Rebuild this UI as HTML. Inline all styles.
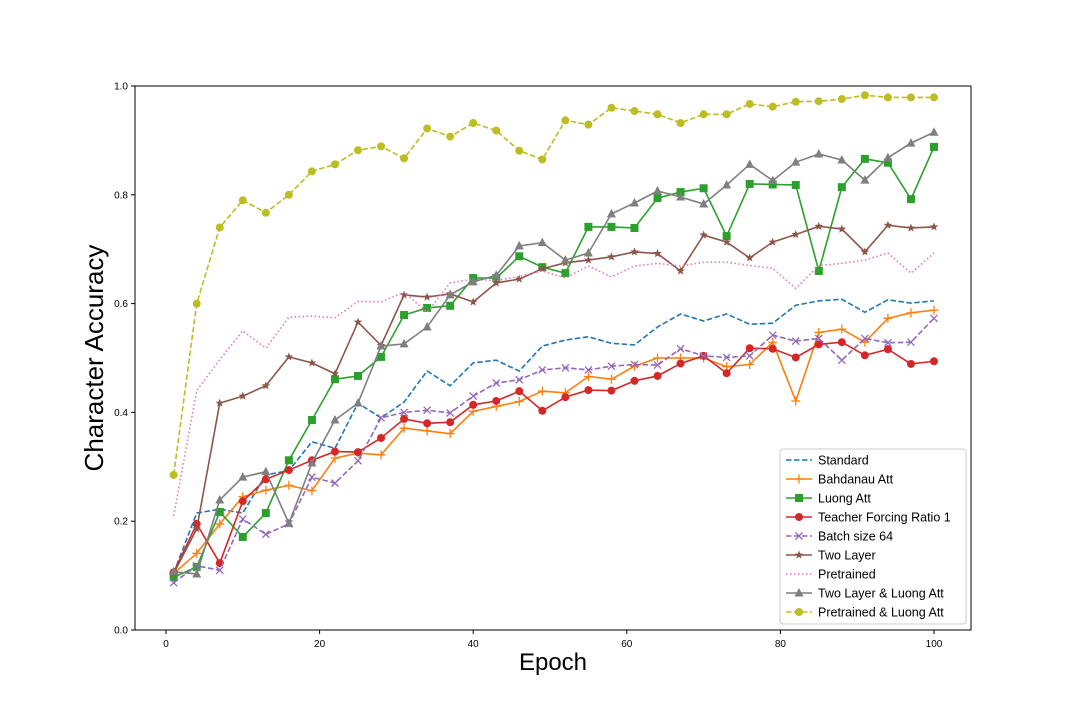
<!DOCTYPE html>
<html><head><meta charset="utf-8"><style>
html,body{margin:0;padding:0;background:#fff;}
svg{display:block;font-family:"Liberation Sans","DejaVu Sans",sans-serif;}
</style></head><body>
<svg id="chart" width="1080" height="720" viewBox="0 0 1080 720" xmlns="http://www.w3.org/2000/svg">
<rect x="0" y="0" width="1080" height="720" fill="#fff"/>
<g id="plot"></g>
<g id="axes"></g>
<text x="553" y="670" font-size="24" text-anchor="middle">Epoch</text>
<text transform="translate(103,358) rotate(-90)" font-size="26" text-anchor="middle">Character Accuracy</text>
<g id="legend"></g>
</svg>
<script>
const epochs = [1,4,7,10,13,16,19,22,25,28,31,34,37,40,43,46,49,52,55,58,61,64,67,70,73,76,79,82,85,88,91,94,97,100];
const seriesNames = ["Standard","Bahdanau Att","Luong Att","Teacher Forcing Ratio 1","Batch size 64","Two Layer","Pretrained","Two Layer & Luong Att","Pretrained & Luong Att"];
const standard = [0.105,0.215,0.222,0.215,0.285,0.293,0.346,0.334,0.417,0.39,0.419,0.476,0.449,0.491,0.496,0.476,0.522,0.533,0.539,0.527,0.524,0.557,0.581,0.568,0.581,0.562,0.564,0.597,0.605,0.608,0.584,0.607,0.601,0.605];
const bahdanau = [0.104,0.141,0.195,0.245,0.257,0.266,0.256,0.316,0.325,0.322,0.371,0.366,0.361,0.402,0.411,0.42,0.439,0.436,0.466,0.461,0.485,0.5,0.5,0.5,0.484,0.488,0.529,0.421,0.547,0.553,0.529,0.573,0.583,0.588];
const luong = [0.097,0.116,0.217,0.171,0.215,0.312,0.386,0.461,0.467,0.502,0.579,0.592,0.596,0.647,0.647,0.687,0.667,0.656,0.741,0.741,0.739,0.794,0.805,0.812,0.724,0.82,0.819,0.818,0.66,0.814,0.866,0.859,0.792,0.888];
const teacher = [0.106,0.195,0.123,0.237,0.277,0.294,0.312,0.328,0.327,0.353,0.388,0.38,0.382,0.414,0.421,0.439,0.403,0.428,0.441,0.44,0.458,0.467,0.49,0.504,0.472,0.518,0.517,0.501,0.525,0.529,0.505,0.516,0.489,0.494];
const batch64 = [0.087,0.118,0.11,0.204,0.176,0.195,0.281,0.27,0.311,0.39,0.4,0.404,0.399,0.43,0.454,0.46,0.478,0.482,0.478,0.485,0.488,0.487,0.517,0.504,0.501,0.504,0.542,0.531,0.536,0.496,0.536,0.528,0.529,0.573];
const twoLayer = [0.104,0.186,0.417,0.43,0.449,0.502,0.491,0.471,0.566,0.523,0.616,0.612,0.618,0.603,0.638,0.645,0.664,0.675,0.68,0.686,0.695,0.692,0.66,0.726,0.713,0.684,0.713,0.727,0.742,0.737,0.695,0.744,0.739,0.741];
const pretrained = [0.21,0.44,0.497,0.55,0.518,0.575,0.577,0.574,0.604,0.603,0.621,0.584,0.638,0.645,0.642,0.65,0.66,0.647,0.669,0.649,0.669,0.674,0.669,0.676,0.676,0.67,0.665,0.628,0.67,0.674,0.68,0.693,0.656,0.693];
const twoLayerLuong = [0.107,0.103,0.239,0.281,0.291,0.196,0.307,0.386,0.417,0.522,0.526,0.557,0.616,0.64,0.652,0.706,0.712,0.68,0.693,0.765,0.785,0.807,0.796,0.783,0.818,0.856,0.826,0.86,0.875,0.864,0.827,0.868,0.895,0.915];
const pretrainedLuong = [0.285,0.60,0.74,0.79,0.767,0.80,0.843,0.856,0.882,0.889,0.867,0.922,0.907,0.932,0.918,0.881,0.865,0.937,0.929,0.960,0.954,0.948,0.932,0.948,0.948,0.967,0.962,0.971,0.972,0.976,0.983,0.979,0.979,0.979];
const xTicks = [0,20,40,60,80,100];
const yTicks = [0.0,0.2,0.4,0.6,0.8,1.0];

const NS="http://www.w3.org/2000/svg";
const L=135,R=971,T=86,B=630;
function xs(e){return 166+(e-0)*7.68;}
function ys(v){return B-(v-0)*(B-T)/1.0;}
function mk(tag,attrs,parent){const el=document.createElementNS(NS,tag);for(const k in attrs)el.setAttribute(k,attrs[k]);parent.appendChild(el);return el;}

const styles=[
 {data:standard,color:"#1f77b4",dash:"5.5,2.5",marker:"none"},
 {data:bahdanau,color:"#ff7f0e",dash:"",marker:"plus"},
 {data:luong,color:"#2ca02c",dash:"",marker:"square"},
 {data:teacher,color:"#d62728",dash:"",marker:"circle"},
 {data:batch64,color:"#9467bd",dash:"5.5,2.5",marker:"x"},
 {data:twoLayer,color:"#8c564b",dash:"",marker:"star"},
 {data:pretrained,color:"#e377c2",dash:"1.5,2.5",marker:"none"},
 {data:twoLayerLuong,color:"#7f7f7f",dash:"",marker:"triangle"},
 {data:pretrainedLuong,color:"#bcbd22",dash:"5.5,2.5",marker:"circle"}
];
function drawMarker(type,x,y,color,g){
  let m=null;
  if(type==="circle") m=mk("circle",{cx:x,cy:y,r:4,fill:color},g);
  else if(type==="square") m=mk("rect",{x:x-4,y:y-4,width:8,height:8,fill:color},g);
  else if(type==="triangle") m=mk("polygon",{points:`${x},${y-5} ${x+4.5},${y+3.5} ${x-4.5},${y+3.5}`,fill:color},g);
  else if(type==="plus") m=mk("path",{d:`M${x-4.5},${y}H${x+4.5}M${x},${y-4.5}V${y+4.5}`,stroke:color,"stroke-width":1.3,fill:"none"},g);
  else if(type==="x") m=mk("path",{d:`M${x-3.5},${y-3.5}L${x+3.5},${y+3.5}M${x-3.5},${y+3.5}L${x+3.5},${y-3.5}`,stroke:color,"stroke-width":1.3,fill:"none"},g);
  else if(type==="star"){let p=[];for(let i=0;i<10;i++){const r=i%2?1.9:4.5;const a=-Math.PI/2+i*Math.PI/5;p.push((x+r*Math.cos(a)).toFixed(2)+","+(y+r*Math.sin(a)).toFixed(2));}m=mk("polygon",{points:p.join(" "),fill:color},g);}
  if(m){
  }
}
const plot=document.getElementById("plot");
styles.forEach((s,i)=>{
  const g=mk("g",{},plot);
  
  
  const pts=s.data.map((v,j)=>xs(epochs[j]).toFixed(2)+","+ys(v).toFixed(2)).join(" ");
  const pl=mk("polyline",{points:pts,fill:"none",stroke:s.color,"stroke-width":1.6,"stroke-dasharray":s.dash},g);
  
  
  s.data.forEach((v,j)=>drawMarker(s.marker,xs(epochs[j]),ys(v),s.color,g));
});
const axes=document.getElementById("axes");
mk("rect",{x:L,y:T,width:R-L,height:B-T,fill:"none",stroke:"#000","stroke-width":1},axes);
xTicks.forEach(t=>{
  const x=xs(t);
  mk("line",{x1:x,y1:B,x2:x,y2:B+4,stroke:"#000"},axes);
  const tx=mk("text",{x:x,y:B+17,"font-size":10,"text-anchor":"middle"},axes);
  tx.textContent=t;
  
  
});
yTicks.forEach(t=>{
  const y=ys(t);
  mk("line",{x1:L-4,y1:y,x2:L,y2:y,stroke:"#000"},axes);
  const tx=mk("text",{x:L-7,y:y+3.5,"font-size":10,"text-anchor":"end"},axes);
  tx.textContent=t.toFixed(1);
  
  
});
const lg=document.getElementById("legend");
mk("rect",{x:780,y:449,width:186,height:175,rx:3,fill:"#fff","fill-opacity":0.85,stroke:"#ccc"},lg);
styles.forEach((s,i)=>{
  const y=460+i*19;
  const e=mk("g",{},lg);
  
  
  mk("line",{x1:786,y1:y,x2:812,y2:y,stroke:s.color,"stroke-width":1.6,"stroke-dasharray":s.dash},e);
  drawMarker(s.marker,799,y,s.color,e);
  const tx=mk("text",{x:818,y:y+4.5,"font-size":12.5},e);
  tx.textContent=seriesNames[i];
});
</script>
</body></html>
